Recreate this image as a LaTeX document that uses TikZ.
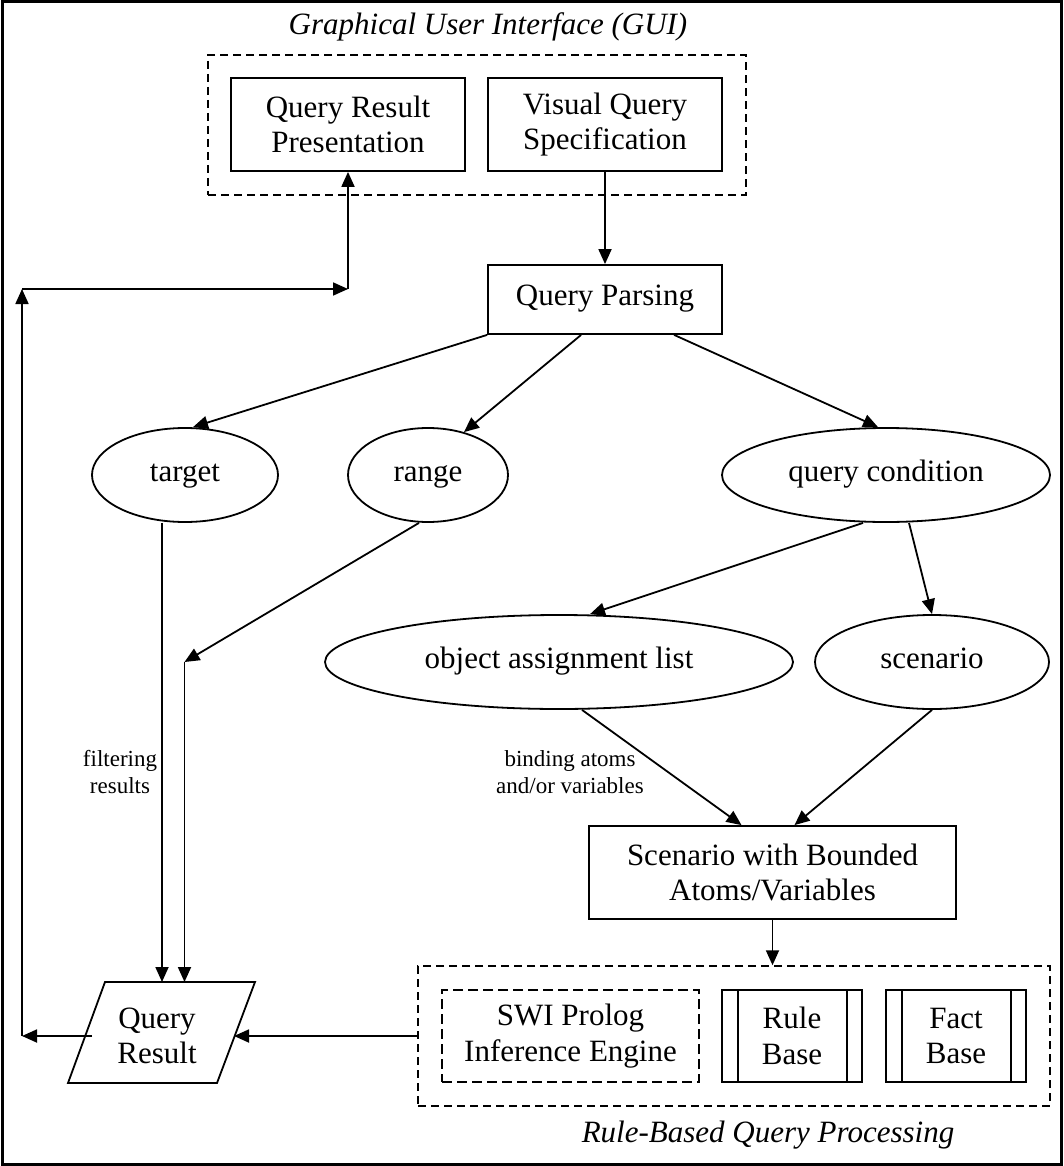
\documentclass[tikz,border=0pt]{standalone}
\usepackage{fontspec}
\setmainfont{Liberation Serif}
\usetikzlibrary{shapes.geometric,arrows.meta,calc}
\begin{document}
\begin{tikzpicture}[x=1pt,y=-1pt,
  every node/.style={font=\fontsize{31}{35.5}\selectfont, inner sep=0pt},
  box/.style={draw, line width=1.8pt, rectangle, align=center},
  dbox/.style={draw, line width=1.5pt, dash pattern=on 8pt off 5pt},
  swibox/.style={draw, line width=1.8pt, dash pattern=on 10pt off 5pt, align=center},
  ell/.style={draw, line width=1.8pt, ellipse, minimum height=94pt, text height=19pt, text depth=7pt},
  conn/.style={line width=1.8pt, -{Triangle[length=15pt,width=13pt]}},
  plainline/.style={line width=1.8pt},
  lbl/.style={font=\fontsize{23}{27}\selectfont, align=center},
  ttl/.style={font=\fontsize{31}{35.5}\selectfont\itshape, anchor=base}
]
\useasboundingbox (0,0) rectangle (1063,1166);
\draw[line width=3pt] (2,2) rectangle (1061,1164);

% GUI group
\node[dbox, minimum width=538pt, minimum height=140pt] (gui) at (477,125) {};
\node[ttl] (guit) at (488,35) {Graphical User Interface (GUI)};
\node[box, minimum width=234pt, minimum height=93pt] (qrp) at (348,124.5) {Query Result\\Presentation};
\node[box, minimum width=234pt, minimum height=93pt] (vqs) at (605,124.5) {Visual Query\\Specification};

\node[box, minimum width=234pt, minimum height=69pt, text height=19pt, text depth=7pt] (qp) at (605,299.5) {Query Parsing};

% ellipses
\node[ell, minimum width=186pt] (target) at (185,475) {target};
\node[ell, minimum width=160pt] (range) at (428,475) {range};
\node[ell, minimum width=328pt] (qc) at (886,475) {query condition};
\node[ell, minimum width=468pt] (oal) at (559,662) {object assignment list};
\node[ell, minimum width=234pt] (scen) at (932,662) {scenario};

\node[box, minimum width=367pt, minimum height=93pt] (sbav) at (772.5,872.5) {Scenario with Bounded\\Atoms/Variables};

% rule based group
\node[dbox, minimum width=632pt, minimum height=140pt] (rbq) at (734,1036) {};
\node[ttl] (rbqt) at (768,1142) {Rule-Based Query Processing};
\node[swibox, minimum width=257pt, minimum height=92pt] (swi) at (570.5,1036) {SWI Prolog\\Inference Engine};
\node[box, minimum width=140pt, minimum height=92pt] (rb) at (792,1036) {Rule\\Base};
\node[box, minimum width=140pt, minimum height=92pt] (fb) at (956,1036) {Fact\\Base};
\draw[plainline] ($(rb.north west)+(17,0)$) -- ($(rb.south west)+(17,0)$);
\draw[plainline] ($(rb.north east)+(-16,0)$) -- ($(rb.south east)+(-16,0)$);
\draw[plainline] ($(fb.north west)+(17,0)$) -- ($(fb.south west)+(17,0)$);
\draw[plainline] ($(fb.north east)+(-16,0)$) -- ($(fb.south east)+(-16,0)$);

% query result parallelogram
\coordinate (qrA) at (105,982);
\coordinate (qrB) at (255,982);
\coordinate (qrC) at (217,1083);
\coordinate (qrD) at (68,1083);
\draw[plainline] (qrA) -- (qrB) -- (qrC) -- (qrD) -- cycle;
\node[align=center] (qr) at (157,1036) {Query\\Result};

% connector points
\coordinate (qrTa) at (162,982);
\coordinate (qrTb) at (184.5,982);
\coordinate (bend) at (184.5,662);
\coordinate (qrR) at (234,1036);
\coordinate (qrL) at (92,1036);
\coordinate (lc) at (22,1036);
\coordinate (tc) at (22,289);
\coordinate (jc) at (348,289);

% connectors
\draw[conn] (vqs.south) -- (qp.north);
\draw[conn] (qp.south west) -- ($(target.north)+(8,0)$);
\draw[conn] ($(qp.south west)+(94,0)$) -- (range.50);
\draw[conn] ($(qp.south west)+(187,0)$) -- ($(qc.north)+(-8,0)$);
\draw[conn] ($(qc.south)+(-23,0)$) -- ($(oal.north)+(31,0)$);
\draw[conn] ($(qc.south)+(23,0)$) -- (scen.north);
\draw[conn] ($(oal.south)+(23,0)$) -- ($(sbav.north)+(-31,0)$);
\draw[conn] (scen.south) -- ($(sbav.north)+(22,0)$);
\draw[conn] (sbav.south) -- (sbav.south |- rbq.north);
\draw[conn] ($(target.south)+(-23,0)$) -- (qrTa);
\draw[conn] ($(range.south)+(-9,0)$) -- (bend);
\draw[conn] (bend) -- (qrTb);
\draw[conn] (rbq.west) -- (qrR);
\draw[conn] (qrL) -- (lc);
\draw[conn] (lc) -- (tc);
\draw[conn] (tc) -- (jc);
\draw[conn] (jc) -- (qrp.south);

% labels
\node[lbl] (filt) at (120,772) {filtering\\results};
\node[lbl] (bind) at (570,772) {binding atoms\\and/or variables};
\end{tikzpicture}
\end{document}
